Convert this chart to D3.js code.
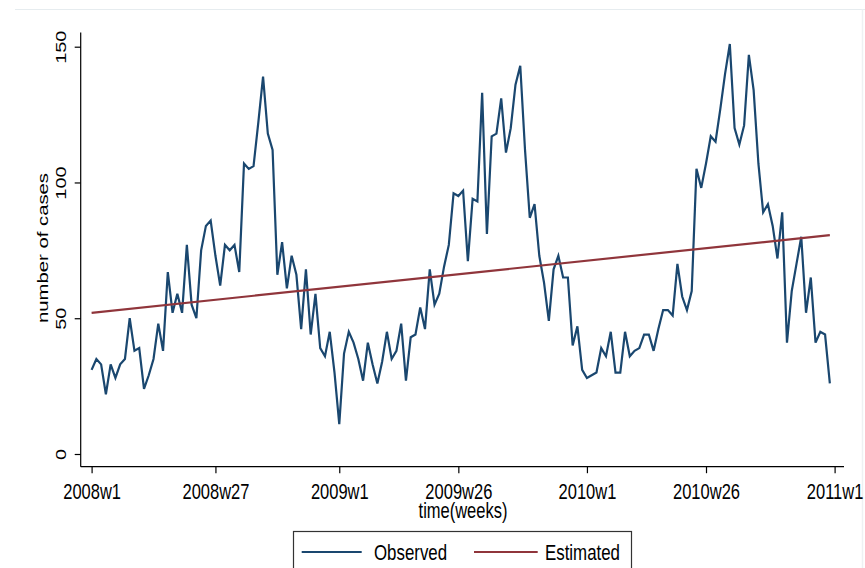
<!DOCTYPE html>
<html>
<head>
<meta charset="utf-8">
<script src="https://cdn.jsdelivr.net/npm/d3@7"></script>
<style>
  body { margin: 0; background: #fff; }
  svg text { font-family: "Liberation Sans", Arial, sans-serif; fill: #000; }
</style>
</head>
<body>
<svg id="chart" width="865" height="568"></svg>
<script>
// weekly case counts, 2008w1 .. 2010w52 (index = week number from 2008w1)
const observed = [
  31, 35, 33, 22, 33, 28, 33, 35, 50, 38, 39, 24, 29, 35, 48, 38, 67, 52, 59, 52,
  77, 55, 50, 75, 84, 86, 73, 62, 77, 75, 77, 67, 107, 105, 106, 122, 139, 118, 112, 66,
  78, 61, 73, 66, 46, 68, 44, 59, 39, 36, 45, 30, 11, 37, 45, 41, 35, 27, 41, 33,
  26, 34, 45, 35, 38, 48, 27, 43, 44, 54, 46, 68, 55, 59, 69, 77, 96, 95, 97, 71,
  94, 93, 133, 81, 117, 118, 131, 111, 120, 136, 143, 112, 87, 92, 73, 63, 49, 68, 73, 65,
  65, 40, 47, 31, 28, 29, 30, 39, 36, 45, 30, 30, 45, 36, 38, 39, 44, 44, 38, 46,
  53, 53, 51, 70, 58, 53, 60, 105, 98, 107, 117, 115, 127, 140, 151, 120, 114, 121, 147, 134,
  107, 89, 92, 84, 72, 89, 41, 60, 70, 80, 52, 65, 41, 45, 44, 26
];
// fitted linear trend, [week, value]
const estimated = [[0, 52.0], [155, 80.6]];

const xTickWeeks = [0, 26, 52, 77, 104, 129, 156];
const xTickLabels = ["2008w1", "2008w27", "2009w1", "2009w26", "2010w1", "2010w26", "2011w1"];
const yTicks = [0, 50, 100, 150];

const seriesNames = ["Observed", "Estimated"];
const seriesColors = ["#1a476f", "#90353b"];

const svg = d3.select("#chart");

// plot region (stata-like, slightly squeezed horizontally)
const axisLeft = 80.7, axisBottom = 466.7, axisRight = 844, axisTop = 32.5;
const squeeze = 0.75;

const x = d3.scaleLinear().domain([0, 156]).range([91.6, 834.6]);
const y = d3.scaleLinear().domain([0, 150]).range([454, 46.7]);

// faint outer frame
svg.append("line")
  .attr("x1", 15).attr("x2", 865).attr("y1", 9.5).attr("y2", 9.5)
  .attr("stroke", "#e6ecef").attr("stroke-width", 1.2);
svg.append("line")
  .attr("x1", 862.5).attr("x2", 862.5).attr("y1", 9.5).attr("y2", 568)
  .attr("stroke", "#eef1f3").attr("stroke-width", 1.5);

// X axis
const xAxis = svg.append("g")
  .attr("transform", `translate(0,${axisBottom})`)
  .call(d3.axisBottom(x)
    .tickValues(xTickWeeks)
    .tickFormat((d, i) => xTickLabels[i])
    .tickSize(6.5)
    .tickSizeOuter(0));
xAxis.select(".domain").remove();
xAxis.append("line")
  .attr("x1", axisLeft).attr("x2", axisRight)
  .attr("stroke", "#000").attr("stroke-width", 1.2);
xAxis.selectAll(".tick line").attr("stroke", "#000").attr("stroke-width", 1.2);
xAxis.selectAll(".tick text")
  .attr("y", 0).attr("dy", null)
  .attr("transform", `translate(0,32.4) scale(${squeeze},1)`)
  .style("font-size", "22px");

// Y axis
const yAxis = svg.append("g")
  .attr("transform", `translate(${axisLeft},0)`)
  .call(d3.axisLeft(y).tickValues(yTicks).tickSize(6).tickSizeOuter(0));
yAxis.select(".domain").remove();
yAxis.append("line")
  .attr("y1", axisTop).attr("y2", axisBottom)
  .attr("stroke", "#000").attr("stroke-width", 1.2);
yAxis.selectAll(".tick line").attr("stroke", "#000").attr("stroke-width", 1.2);
yAxis.selectAll(".tick text")
  .attr("x", 0).attr("dy", null)
  .attr("text-anchor", "middle")
  .attr("transform", `translate(-15,0) scale(${squeeze},1) rotate(-90)`)
  .style("font-size", "20px");

// axis titles
svg.append("text")
  .attr("transform", `translate(48,248) scale(${squeeze},1) rotate(-90)`)
  .attr("text-anchor", "middle")
  .style("font-size", "20.3px")
  .text("number of cases");

svg.append("text")
  .attr("transform", `translate(463,518) scale(${squeeze},1)`)
  .attr("text-anchor", "middle")
  .style("font-size", "22px")
  .text("time(weeks)");

// lines
const line = d3.line()
  .x(d => x(d[0]))
  .y(d => y(d[1]));

svg.append("path")
  .datum(observed.map((v, i) => [i, v]))
  .attr("fill", "none")
  .attr("stroke", seriesColors[0])
  .attr("stroke-width", 2.2)
  .attr("stroke-linejoin", "miter")
  .attr("d", line);

svg.append("path")
  .datum(estimated)
  .attr("fill", "none")
  .attr("stroke", seriesColors[1])
  .attr("stroke-width", 2.2)
  .attr("d", line);

// legend
const legend = svg.append("g");
legend.append("rect")
  .attr("x", 293.5).attr("y", 531.5)
  .attr("width", 338).attr("height", 60)
  .attr("fill", "#fff")
  .attr("stroke", "#333").attr("stroke-width", 1.2);

const legendX = [[301.7, 361.7, 374], [474, 537.7, 545]];
legend.selectAll(".legend-item")
  .data(seriesNames)
  .enter()
  .append("g")
  .attr("class", "legend-item")
  .call(g => {
    g.append("line")
      .attr("x1", (d, i) => legendX[i][0])
      .attr("x2", (d, i) => legendX[i][1])
      .attr("y1", 552).attr("y2", 552)
      .attr("stroke", (d, i) => seriesColors[i])
      .attr("stroke-width", 2.2);
    g.append("text")
      .attr("transform", (d, i) => `translate(${legendX[i][2]},560) scale(${squeeze},1)`)
      .style("font-size", "22.5px")
      .text(d => d);
  });
</script>
</body>
</html>
